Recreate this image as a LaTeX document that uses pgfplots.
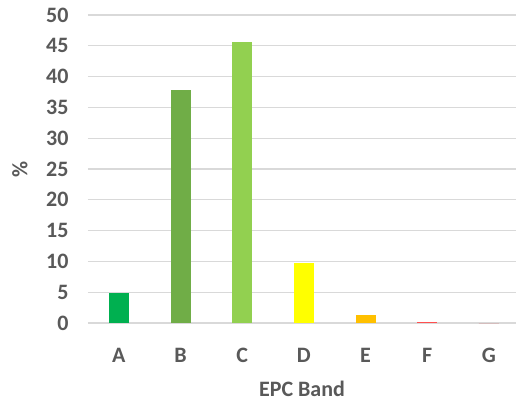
\documentclass[border=0pt]{standalone}
\usepackage{fontspec}
\setmainfont{Carlito}[BoldFont={Carlito Bold}]
\usepackage{pgfplots}
\pgfplotsset{compat=1.18}
\definecolor{txt}{HTML}{595959}
\definecolor{grd}{HTML}{D9D9D9}
\definecolor{cA}{HTML}{00B050}
\definecolor{cB}{HTML}{70AD47}
\definecolor{cC}{HTML}{92D050}
\definecolor{cD}{HTML}{FFFF00}
\definecolor{cE}{HTML}{FFC000}
\definecolor{cF}{HTML}{FF5050}
\definecolor{cG}{HTML}{C00000}
\newcommand{\chfont}{\fontsize{22}{26}\selectfont\bfseries}
\begin{document}
\begin{tikzpicture}
\begin{axis}[
  at={(0,0)}, anchor=south west,
  scale only axis,
  width=428pt, height=308pt,
  xmin=-0.5, xmax=6.44,
  ymin=0, ymax=50,
  ytick={0,5,...,50},
  xtick={0,...,6},
  xticklabels={A,B,C,D,E,F,G},
  axis line style={draw=none},
  major tick length=0pt,
  ymajorgrids,
  grid style={grd, line width=1.2pt},
  /pgf/number format/assume math mode=true,
  tick label style={text=txt, font=\chfont},
  yticklabel style={xshift=-16pt},
  xticklabel style={yshift=-22pt},
  xlabel={EPC Band},
  ylabel={\%},
  every axis x label/.style={at={(axis description cs:0.5,0)}, yshift=-73pt, anchor=base, inner sep=0pt, text=txt, font=\chfont},
  every axis y label/.style={at={(axis description cs:0,0.5)}, xshift=-68pt, rotate=90, anchor=center, text=txt, font=\chfont},
  clip=false,
]
\addplot[ybar, bar width=20pt, fill=cA, draw=none] coordinates {(0,4.9)};
\addplot[ybar, bar width=20pt, fill=cB, draw=none] coordinates {(1,37.8)};
\addplot[ybar, bar width=20pt, fill=cC, draw=none] coordinates {(2,45.6)};
\addplot[ybar, bar width=20pt, fill=cD, draw=none] coordinates {(3,9.7)};
\addplot[ybar, bar width=20pt, fill=cE, draw=none] coordinates {(4,1.3)};
\addplot[ybar, bar width=20pt, fill=cF, draw=none] coordinates {(5,0.2)};
\addplot[ybar, bar width=20pt, fill=cG, draw=none] coordinates {(6,0)};
\end{axis}
\pgfresetboundingbox
\path[use as bounding box] (-88pt,-77pt) rectangle (428pt,323pt);
\end{tikzpicture}
\end{document}
